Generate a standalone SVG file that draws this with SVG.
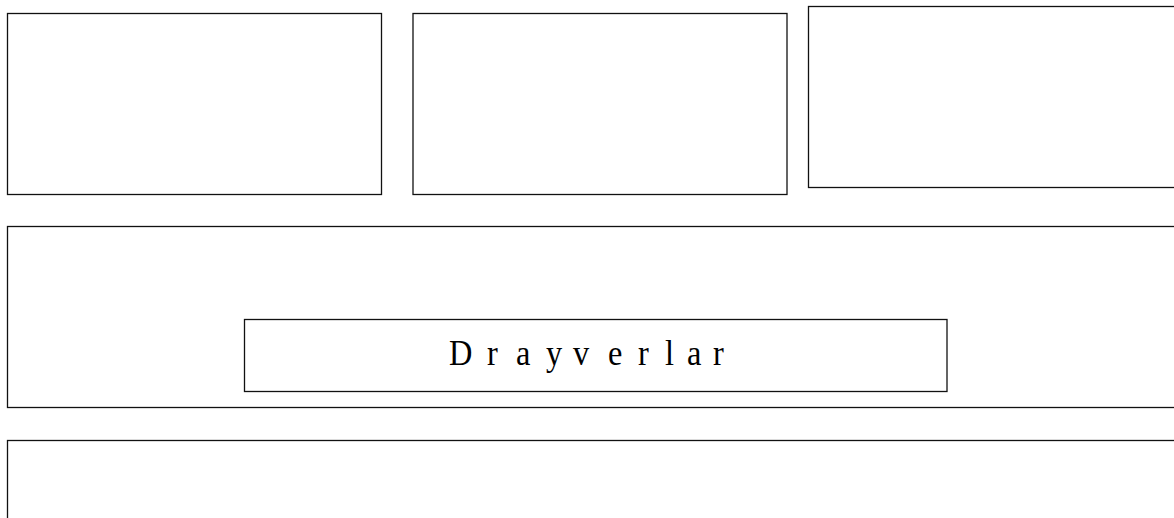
<svg xmlns="http://www.w3.org/2000/svg" width="1174" height="518" viewBox="0 0 1174 518">
<style>
.box{fill:#fff;stroke:#111;stroke-width:1.3}
.lbl{font-family:"Liberation Serif","Times New Roman",serif;font-size:36px;fill:#000}
</style>
<rect width="1174" height="518" fill="#fff"/>
<g id="box1"><rect class="box" x="7.5" y="13.5" width="374" height="181"/></g>
<g id="box2"><rect class="box" x="413" y="13.5" width="374" height="181"/></g>
<g id="box3"><rect class="box" x="808.5" y="6.5" width="380" height="181"/></g>
<g id="box4"><rect class="box" x="7.5" y="226.5" width="1180" height="181"/></g>
<g id="drivers"><rect class="box" x="244.5" y="319.5" width="702.5" height="72"/>
<text class="lbl" transform="scale(0.9,1)" x="498.9 541.1 573.3 606.7 636.7 675.6 708.9 738.9 763.3 792.2" y="365">Drayverlar</text></g>
<g id="box5"><rect class="box" x="7.5" y="440.5" width="1180" height="100"/></g>
<g id="connectors"></g>
</svg>
